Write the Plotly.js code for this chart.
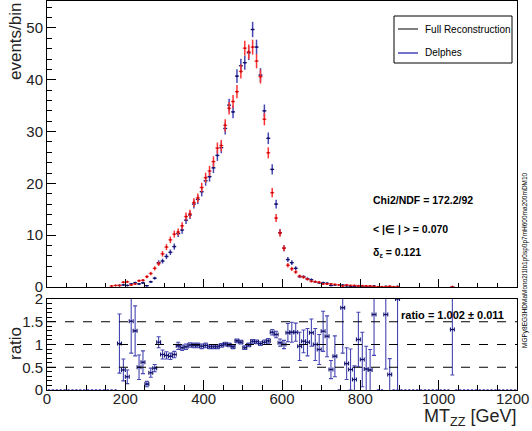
<!DOCTYPE html>
<html>
<head>
<meta charset="utf-8">
<script src="https://cdn.plot.ly/plotly-3.0.1.min.js"></script>
<style>html,body{margin:0;padding:0;background:#fff;}#plot{width:532px;height:431px;}</style>
</head>
<body>
<div id="plot"></div>
<script>
// ---- data (bin centres in GeV, 10 GeV bins) ----
const binCenters = [165,175,185,195,205,215,225,235,245,255,265,275,285,295,305,315,325,335,345,355,365,375,385,395,405,415,425,435,445,455,465,475,485,495,505,515,525,535,545,555,565,575,585,595,605,615,625,635,645,655,665,675,685,695,705,715,725,735,745,755,765,775,785,795,805,815,825,835,845,855,865,875,885,895,1035];
const fullReco = [0.2,0.3,0.3,0.9,1.0,0.4,0.6,1.2,1.3,2.0,2.6,3.6,4.5,6.4,7.7,9.1,10.2,10.6,11.8,13.6,14.1,16.3,17.2,19.2,21.1,22.4,24.2,26.8,27.3,31.2,34.5,35.8,37.7,41.6,46.1,45.4,46.3,43.6,40.6,32.4,25.9,18.2,13.3,10.4,7.5,4.2,3.5,2.9,2.1,1.9,1.5,1.1,1.0,0.9,0.6,0.6,0.6,0.5,0.4,0.2,0.4,0.3,0.3,0.2,0.25,0.2,0.2,0.1,0.05,0.05,0.06,0.15,0.05,0.05,0.03];
const fullRecoErr = [0.09,0.12,0.12,0.2,0.21,0.13,0.16,0.23,0.24,0.3,0.34,0.4,0.45,0.53,0.58,0.63,0.67,0.68,0.72,0.77,0.79,0.85,0.87,0.92,0.96,0.99,1.03,1.09,1.1,1.17,1.23,1.26,1.29,1.35,1.43,1.41,1.43,1.39,1.34,1.2,1.07,0.9,0.77,0.68,0.58,0.43,0.39,0.36,0.3,0.29,0.26,0.22,0.21,0.2,0.16,0.16,0.16,0.15,0.13,0.09,0.13,0.12,0.12,0.09,0.1,0.09,0.09,0.07,0.05,0.05,0.05,0.08,0.05,0.05,0.04];
const delphes = [null,null,0.3,0.4,0.3,0.6,0.8,0.6,0.8,0.26,1.0,1.7,4.7,5.0,5.9,6.7,7.8,10.3,11.0,12.9,13.9,16.0,16.9,18.4,20.5,21.3,23.0,25.4,26.9,30.6,35.1,33.8,40.7,42.7,43.3,45.2,49.7,46.3,40.9,34.0,28.7,22.7,16.0,10.5,7.5,5.3,4.7,3.6,2.0,2.0,1.6,1.4,1.0,0.8,0.8,0.7,0.3,0.4,null,0.36,0.23,0.14,0.07,0.22,0.17,0.09,0.09,0.17,null,null,0.1,0.05,null,0.1,0.04];
const delphesErr = [0,0,0.12,0.13,0.12,0.16,0.19,0.16,0.19,0.11,0.21,0.27,0.46,0.47,0.51,0.54,0.59,0.67,0.7,0.75,0.78,0.84,0.86,0.9,0.95,0.97,1.01,1.06,1.09,1.16,1.24,1.22,1.34,1.37,1.38,1.41,1.48,1.43,1.34,1.22,1.12,1.0,0.84,0.68,0.58,0.48,0.46,0.4,0.3,0.3,0.27,0.25,0.21,0.19,0.19,0.18,0.12,0.13,0,0.13,0.1,0.08,0.06,0.1,0.09,0.06,0.06,0.09,0,0,0.07,0.05,0,0.07,0.04];

const ratioX = [185,195,205,215,225,235,245,255,265,275,285,295,305,315,325,335,345,355,365,375,385,395,405,415,425,435,445,455,465,475,485,495,505,515,525,535,545,555,565,575,585,595,605,615,625,635,645,655,665,675,685,695,705,715,725,735,755,765,775,785,795,805,815,825,835,865,875,895,1035];
const ratioY = [1.02,0.44,0.29,1.51,1.30,0.50,0.61,0.13,0.38,0.48,1.05,0.78,0.76,0.74,0.78,0.97,0.93,0.95,0.99,0.98,0.98,0.96,0.98,0.95,0.95,0.95,0.98,1.01,0.99,0.95,1.08,1.05,0.93,0.99,1.07,1.06,1.02,1.05,1.08,1.27,1.22,1.04,1.00,1.26,1.27,1.27,0.96,1.07,1.05,1.26,1.00,0.89,1.29,1.18,0.45,0.74,1.81,0.58,0.45,0.23,1.11,0.67,0.46,0.44,1.66,1.66,0.34,2.0,1.33];
const ratioErr = [0.65,0.24,0.15,0.7,0.55,0.27,0.25,0.06,0.1,0.08,0.12,0.1,0.08,0.07,0.07,0.08,0.06,0.06,0.05,0.05,0.05,0.05,0.05,0.04,0.04,0.04,0.04,0.04,0.04,0.04,0.04,0.04,0.04,0.04,0.04,0.04,0.04,0.05,0.05,0.06,0.07,0.08,0.09,0.2,0.22,0.2,0.31,0.25,0.3,0.3,0.35,0.33,0.44,0.45,0.2,0.45,1.0,0.35,0.45,0.3,0.6,0.6,0.5,0.45,0.9,1.2,0.35,2.0,1.0];
const ratioZeroX = [5,15,25,35,45,55,65,75,85,95,105,115,125,135,145,155,165,175,745,845,855,885,905,915,925,935,945,955,965,975,985,995,1005,1015,1025,1045,1055,1065,1075,1085,1095,1105,1115,1125,1135,1145,1155,1165,1175,1185,1195];
const ratioZeroY = [0,0,0,0,0,0,0,0,0,0,0,0,0,0,0,0,0,0,0,0,0,0,0,0,0,0,0,0,0,0,0,0,0,0,0,0,0,0,0,0,0,0,0,0,0,0,0,0,0,0,0];
const dashedLevels = [0.5, 1, 1.5];
const xTickVals = [0, 200, 400, 600, 800, 1000];
const xTickText = ['0', '200', '400', '600', '800', '1000'];
const xLastTickLabel = '1200';

const legendLabels = ["Full Reconstruction", "Delphes"];
const statsLines = ["<b>Chi2/NDF = 172.2/92</b>", "<b>< |\u2208 | > = 0.070</b>", "<b>\u03b4<sub>\u03b5</sub> = 0.121</b>"];
const ratioText = "<b>ratio = 1.002 \u00b1 0.011</b>";
const sampleName = "MGPy8EG3HDMaMono2l1lb1p0sp0p7mH600ma200mDM10";

// ---- styling ----
const FONT = "Liberation Sans, Arial, Helvetica, sans-serif";
const BLUE = "#4646b4", NAVY = "#14146e", RED = "#ff3333", DRED = "#c00000";
const W = 532, H = 431, L = 47, R = 15, T = 1, B = 41;
const px = v => (v - L) / (W - L - R);
const py = v => (H - B - v) / (H - T - B);

const traces = [
  {x: binCenters, y: delphes, xaxis: 'x', yaxis: 'y', type: 'scatter', mode: 'markers',
   marker: {size: 2, color: NAVY}, showlegend: false, hoverinfo: 'skip',
   error_y: {type: 'data', array: delphesErr, color: BLUE, thickness: 1.5, width: 0},
   error_x: {type: 'constant', value: 5, color: NAVY, thickness: 1.3, width: 0}},
  {x: binCenters, y: fullReco, xaxis: 'x', yaxis: 'y', type: 'scatter', mode: 'markers',
   marker: {size: 2, color: DRED}, showlegend: false, hoverinfo: 'skip',
   error_y: {type: 'data', array: fullRecoErr, color: RED, thickness: 1.5, width: 0},
   error_x: {type: 'constant', value: 5, color: RED, thickness: 1.3, width: 0}},
  {x: ratioX, y: ratioY, xaxis: 'x2', yaxis: 'y2', type: 'scatter', mode: 'markers',
   marker: {size: 2, color: NAVY}, showlegend: false, hoverinfo: 'skip', cliponaxis: true,
   error_y: {type: 'data', array: ratioErr, color: BLUE, thickness: 1.1, width: 2},
   error_x: {type: 'constant', value: 5, color: NAVY, thickness: 1.1, width: 2}},
  {x: ratioZeroX, y: ratioZeroY, xaxis: 'x2', yaxis: 'y2', type: 'scatter', mode: 'markers',
   marker: {size: 1, color: BLUE}, showlegend: false, hoverinfo: 'skip', cliponaxis: false,
   error_x: {type: 'constant', value: 3, color: BLUE, thickness: 1.5, width: 0}}
];

const axisCommon = {showgrid: false, zeroline: false, showline: true, linecolor: '#000', linewidth: 1,
  mirror: true, ticks: 'inside', tickcolor: '#000', tickfont: {family: FONT, size: 15, color: '#222'}};

const shapes = [];
dashedLevels.forEach(v => shapes.push({type: 'line', xref: 'x2', yref: 'y2', x0: 0, x1: 1200, y0: v, y1: v,
  line: {color: '#000', width: 1, dash: 'dash'}}));
// legend box and samples
shapes.push({type: 'rect', xref: 'paper', yref: 'paper', x0: px(394), x1: px(512), y0: py(63), y1: py(16),
  line: {color: '#000', width: 1}, fillcolor: 'rgba(255,255,255,1)'});
shapes.push({type: 'line', xref: 'paper', yref: 'paper', x0: px(398), x1: px(418), y0: py(29), y1: py(29), line: {color: '#000', width: 1}});
shapes.push({type: 'line', xref: 'paper', yref: 'paper', x0: px(398), x1: px(418), y0: py(53), y1: py(53), line: {color: '#4444bb', width: 1.5}});

const ann = [];
ann.push({xref: 'paper', yref: 'paper', x: px(423), y: py(29), xanchor: 'left', yanchor: 'middle', showarrow: false,
  text: legendLabels[0], font: {family: FONT, size: 10, color: '#000'}});
ann.push({xref: 'paper', yref: 'paper', x: px(423), y: py(53), xanchor: 'left', yanchor: 'middle', showarrow: false,
  text: legendLabels[1], font: {family: FONT, size: 10, color: '#000'}});
[200, 229, 253].forEach((yy, i) => ann.push({xref: 'paper', yref: 'paper', x: px(371), y: py(yy), xanchor: 'left', yanchor: 'middle',
  showarrow: false, text: statsLines[i], font: {family: FONT, size: 10.5, color: '#000'}}));
ann.push({xref: 'paper', yref: 'paper', x: px(399), y: py(315), xanchor: 'left', yanchor: 'middle', showarrow: false,
  text: ratioText, font: {family: FONT, size: 11, color: '#000'}});
ann.push({xref: 'paper', yref: 'paper', x: px(15), y: py(0), xanchor: 'center', yanchor: 'top', textangle: -90, showarrow: false,
  text: 'events/bin', font: {family: FONT, size: 17, color: '#222'}});
ann.push({xref: 'paper', yref: 'paper', x: px(15), y: py(344), xanchor: 'center', yanchor: 'middle', textangle: -90, showarrow: false,
  text: 'ratio', font: {family: FONT, size: 17, color: '#222'}});
ann.push({xref: 'paper', yref: 'paper', x: px(518), y: py(431), xanchor: 'right', yanchor: 'bottom', showarrow: false,
  text: 'MT<sub>ZZ</sub> [GeV]', font: {family: FONT, size: 18, color: '#222'}});
ann.push({xref: 'paper', yref: 'paper', x: px(531), y: py(398), xanchor: 'right', yanchor: 'middle', showarrow: false,
  text: xLastTickLabel, font: {family: FONT, size: 15, color: '#222'}});
ann.push({xref: 'paper', yref: 'paper', x: px(525), y: py(350), xanchor: 'center', yanchor: 'bottom', textangle: -90, showarrow: false,
  text: sampleName, font: {family: FONT, size: 6.5, color: '#000'}});

const layout = {
  width: W, height: H, margin: {l: L, r: R, t: T, b: B}, paper_bgcolor: '#fff', plot_bgcolor: '#fff',
  showlegend: false,
  xaxis: Object.assign({}, axisCommon, {domain: [0, 1], anchor: 'y', range: [0, 1200], dtick: 200, ticklen: 8,
    showticklabels: false, minor: {dtick: 50, ticklen: 4, ticks: 'inside', tickcolor: '#000'}}),
  yaxis: Object.assign({}, axisCommon, {domain: [py(287), 1], anchor: 'x', range: [0, 55.2], dtick: 10, ticklen: 9,
    minor: {dtick: 2, ticklen: 5, ticks: 'inside', tickcolor: '#000'}}),
  xaxis2: Object.assign({}, axisCommon, {domain: [0, 1], anchor: 'y2', range: [0, 1200], tickvals: xTickVals, ticktext: xTickText,
    ticklen: 10, ticklabelstandoff: -5,
    matches: 'x', minor: {dtick: 50, ticklen: 5, ticks: 'inside', tickcolor: '#000'}}),
  yaxis2: Object.assign({}, axisCommon, {domain: [0, py(299)], anchor: 'x2', range: [0, 2], tickvals: [0, 0.5, 1, 1.5, 2],
    ticktext: ['0', '0.5', '1', '1.5', '2'], ticklen: 9, minor: {dtick: 0.1, ticklen: 5, ticks: 'inside', tickcolor: '#000'}}),
  shapes: shapes, annotations: ann
};

Plotly.newPlot('plot', traces, layout, {staticPlot: true, displayModeBar: false});
</script>
</body>
</html>
